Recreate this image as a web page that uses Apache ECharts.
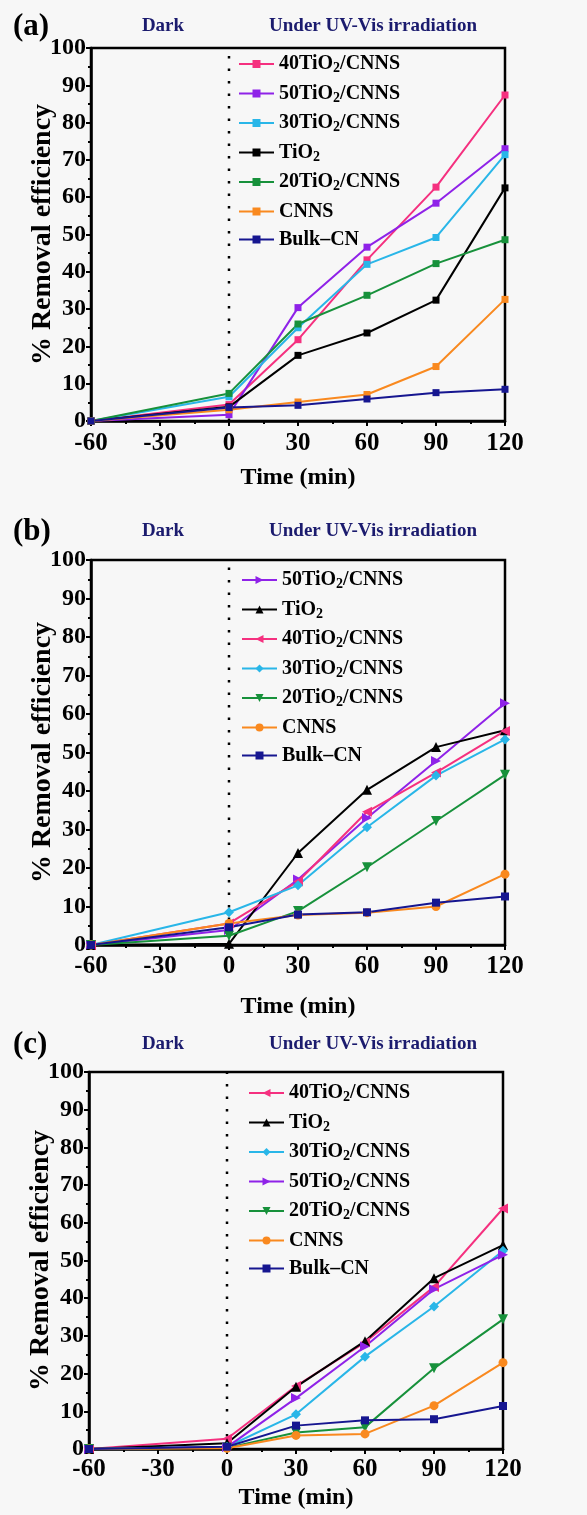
<!DOCTYPE html>
<html>
<head>
<meta charset="utf-8">
<script src="https://cdn.jsdelivr.net/npm/echarts@6/dist/echarts.min.js"></script>
<style>
  html, body { margin: 0; padding: 0; background: #f7f7f7; }
  #main { width: 587px; height: 1515px; }
</style>
</head>
<body>
<div id="main"></div>
<script>
// time points (min)
var times = [-60, 0, 30, 60, 90, 120];
// start of irradiation (dotted divider)
var lightOn = 0;

// panel (a)
var a40 = [0, 4.4, 21.8, 43.2, 62.7, 87.4];
var a50 = [0, 1.7, 30.4, 46.6, 58.4, 73.0];
var a30 = [0, 6.5, 25.0, 42.0, 49.2, 71.4];
var aTiO2 = [0, 3.8, 17.6, 23.6, 32.4, 62.5];
var a20 = [0, 7.4, 26.0, 33.7, 42.2, 48.6];
var aCNNS = [0, 3.0, 5.1, 7.1, 14.6, 32.6];
var aBulk = [0, 3.6, 4.2, 5.9, 7.6, 8.5];

// panel (b)
var b50 = [0, 3.9, 17.0, 33.0, 47.8, 62.8];
var bTiO2 = [0, 0.3, 23.9, 40.3, 51.4, 55.8];
var b40 = [0, 5.6, 16.5, 34.6, 44.8, 55.6];
var b30 = [0, 8.5, 15.5, 30.6, 44.0, 53.4];
var b20 = [0, 2.4, 8.8, 20.2, 32.2, 44.2];
var bCNNS = [0, 5.6, 7.8, 8.4, 10.0, 18.4];
var bBulk = [0, 4.6, 7.9, 8.5, 11.0, 12.6];

// panel (c)
var c40 = [0, 2.7, 16.7, 28.3, 43.0, 63.8];
var cTiO2 = [0, 1.5, 16.5, 28.6, 45.3, 54.1];
var c30 = [0, 0.6, 9.2, 24.5, 37.8, 52.6];
var c50 = [0, 0.5, 13.5, 27.2, 42.4, 51.5];
var c20 = [0, 0.3, 4.4, 5.8, 21.4, 34.4];
var cCNNS = [0, 0.2, 3.6, 4.0, 11.5, 22.9];
var cBulk = [0, 0.6, 6.2, 7.6, 7.9, 11.4];

var serif = '"Liberation Serif", "DejaVu Serif", serif';
var colors = {
	'40TiO2/CNNS': '#f5307f',
	'50TiO2/CNNS': '#8f22e8',
	'30TiO2/CNNS': '#29b6e8',
	'TiO2': '#000000',
	'20TiO2/CNNS': '#17913b',
	'CNNS': '#f9891f',
	'Bulk\u2013CN': '#161690'
};
// markers for panels b and c
var shapes = {
	'40TiO2/CNNS': ['triangle', 90, 10],
	'50TiO2/CNNS': ['triangle', -90, 10],
	'30TiO2/CNNS': ['diamond', 0, 10],
	'TiO2': ['triangle', 0, 10],
	'20TiO2/CNNS': ['triangle', 180, 10],
	'CNNS': ['circle', 0, 9],
	'Bulk\u2013CN': ['rect', 0, 8]
};

var panels = [
	{key: 'a', label: '(a)', top: 48, height: 373, left: 91, xl: 10, xn: 45, legTop: 54, legLeft: 238,
		names: ['40TiO2/CNNS', '50TiO2/CNNS', '30TiO2/CNNS', 'TiO2', '20TiO2/CNNS', 'CNNS', 'Bulk\u2013CN'],
		values: [a40, a50, a30, aTiO2, a20, aCNNS, aBulk], square: true, head: 26},
	{key: 'b', label: '(b)', top: 560, height: 385, left: 91, xl: 9, xn: 50, legTop: 570, legLeft: 241,
		names: ['50TiO2/CNNS', 'TiO2', '40TiO2/CNNS', '30TiO2/CNNS', '20TiO2/CNNS', 'CNNS', 'Bulk\u2013CN'],
		values: [b50, bTiO2, b40, b30, b20, bCNNS, bBulk], square: false, head: 531},
	{key: 'c', label: '(c)', top: 1072, height: 377, left: 89, xl: 8, xn: 37, legTop: 1083, legLeft: 248,
		names: ['40TiO2/CNNS', 'TiO2', '30TiO2/CNNS', '50TiO2/CNNS', '20TiO2/CNNS', 'CNNS', 'Bulk\u2013CN'],
		values: [c40, cTiO2, c30, c50, c20, cCNNS, cBulk], square: false, head: 1044}
];

var grids = [], xAxes = [], yAxes = [], legends = [], series = [], graphics = [];

panels.forEach(function(p, i){
	grids.push({left: p.left, top: p.top, width: 414, height: p.height,
		show: true, borderColor: '#000', borderWidth: 2.5, backgroundColor: 'transparent'});
	xAxes.push({
		gridIndex: i, type: 'value', min: -60, max: 120, interval: 30,
		name: 'Time (min)', nameLocation: 'middle', nameGap: p.xn,
		nameTextStyle: {fontFamily: serif, fontWeight: 'bold', fontSize: 24, color: '#000'},
		axisLine: {onZero: false, lineStyle: {color: '#000', width: 2.5}},
		axisTick: {show: true, inside: false, length: 5, lineStyle: {width: 2}},
		minorTick: {show: true, splitNumber: 2, length: 3, lineStyle: {color: '#000', width: 2}},
		splitLine: {show: false},
		axisLabel: {margin: p.xl, fontFamily: serif, fontWeight: 'bold', fontSize: 25, color: '#000',
			showMinLabel: true, showMaxLabel: true}
	});
	yAxes.push({
		gridIndex: i, type: 'value', min: 0, max: 100, interval: 10,
		name: '% Removal efficiency', nameLocation: 'middle', nameGap: 34, nameMoveOverlap: false,
		nameTextStyle: {fontFamily: serif, fontWeight: 'bold', fontSize: 28, color: '#000'},
		axisLine: {show: true, onZero: false, lineStyle: {color: '#000', width: 2.5}},
		axisTick: {show: true, inside: false, length: 5, lineStyle: {width: 2}},
		minorTick: {show: true, splitNumber: 2, length: 3, lineStyle: {color: '#000', width: 2}},
		splitLine: {show: false},
		axisLabel: {margin: 5, fontFamily: serif, fontWeight: 'bold', fontSize: 24, color: '#000'}
	});

	// dotted divider between dark and irradiation stages
	series.push({
		name: p.key + '|divider', type: 'line', xAxisIndex: i, yAxisIndex: i,
		data: [[lightOn, 0], [lightOn, 100]], symbol: 'none', silent: true, z: 1,
		lineStyle: {color: '#000', width: 2.5, type: [2.5, 10]}
	});

	var legNames = [];
	p.names.forEach(function(n, j){
		var full = p.key + '|' + n;
		legNames.push(full);
		var sh = p.square ? ['rect', 0, 7] : shapes[n];
		series.push({
			name: full, type: 'line', xAxisIndex: i, yAxisIndex: i,
			data: times.map(function(t, k){ return [t, p.values[j][k]]; }),
			symbol: sh[0], symbolRotate: sh[1], symbolSize: sh[2],
			lineStyle: {color: colors[n], width: 2},
			itemStyle: {color: colors[n]},
			showAllSymbol: true, z: 3
		});
	});
	legends.push({
		data: legNames, orient: 'vertical', left: p.legLeft, top: p.legTop, padding: 0,
		itemWidth: 35, itemHeight: 10, itemGap: 8, selectedMode: false,
		formatter: function(name){
			return name.split('|')[1].replace('TiO2', 'TiO{s|2}');
		},
		textStyle: {fontFamily: serif, fontWeight: 'bold', fontSize: 20, color: '#000',
			rich: {s: {fontFamily: serif, fontWeight: 'bold', fontSize: 14, color: '#000', padding: [9, 0, 0, 0]}}}
	});

	graphics.push({type: 'text', left: 13, top: p.head - 15,
		style: {text: p.label, font: 'bold 31px ' + serif, fill: '#000'}});
	graphics.push({type: 'text', x: 163, y: p.head,
		style: {text: 'Dark', font: 'bold 19px ' + serif, fill: '#1b1b6e', align: 'center', verticalAlign: 'middle'}});
	graphics.push({type: 'text', x: 373, y: p.head,
		style: {text: 'Under UV-Vis irradiation', font: 'bold 19px ' + serif, fill: '#1b1b6e', align: 'center', verticalAlign: 'middle'}});
});

var chart = echarts.init(document.getElementById('main'));
chart.setOption({
	backgroundColor: '#f7f7f7',
	animation: false,
	grid: grids,
	xAxis: xAxes,
	yAxis: yAxes,
	legend: legends,
	series: series,
	graphic: graphics
});
</script>
</body>
</html>
